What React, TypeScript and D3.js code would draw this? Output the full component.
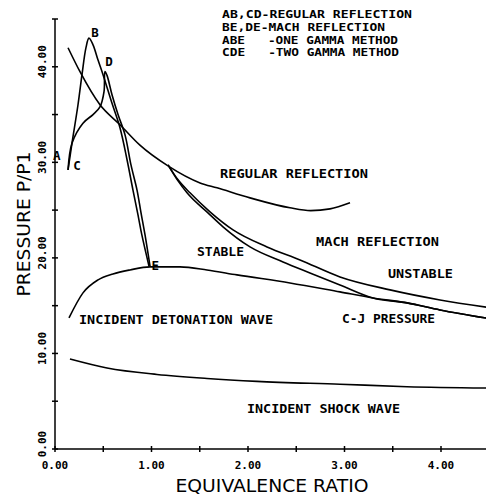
import React from "react";
import * as d3 from "d3";

const width = 486;
const height = 496;
const marginLeft = 55;
const marginTop = 19;
const plotBottom = 449;

// axis ticks (every 0.5 / 5, labels every 1 / 10)
const X_TICKS = [0, 0.5, 1, 1.5, 2, 2.5, 3, 3.5, 4, 4.5];
const X_LABELS = [0, 1, 2, 3, 4];
const Y_TICKS = [0, 5, 10, 15, 20, 25, 30, 35, 40, 45];
const Y_LABELS = [0, 10, 20, 30, 40];

// curves, [equivalence ratio, P/P1]
const REGULAR = [
  [0.135, 41.99], [0.259, 39.48], [0.466, 36.02], [0.674, 33.93], [0.88, 31.8],
  [1.171, 29.63], [1.503, 27.85], [1.679, 27.33], [2.021, 26.28], [2.435, 25.24],
  [2.65, 24.95], [2.85, 25.13], [3.057, 25.76],
];
const ABE = [
  [0.135, 29.2], [0.176, 32.0], [0.238, 36.0], [0.28, 39.2], [0.321, 42.0],
  [0.352, 43.0], [0.394, 42.3], [0.446, 40.7], [0.497, 39.2], [0.59, 36.2],
  [0.674, 33.6], [0.746, 30.3], [0.808, 27.1], [0.86, 24.5], [0.9, 22.4], [0.975, 19.1],
];
const CDE = [
  [0.135, 29.2], [0.176, 32.0], [0.29, 34.1], [0.394, 35.0], [0.466, 35.8],
  [0.508, 37.4], [0.518, 39.5], [0.539, 39.1], [0.59, 37.1], [0.653, 35.0],
  [0.725, 32.9], [0.788, 29.7], [0.85, 27.1], [0.89, 24.8], [0.933, 22.4], [0.985, 19.1],
];
const MACH_UPPER = [
  [1.171, 29.74], [1.275, 28.17], [1.399, 26.81], [1.606, 24.82], [1.845, 22.93],
  [2.197, 21.15], [2.539, 19.79], [2.953, 18.01], [3.472, 16.65], [3.99, 15.6], [4.5, 14.8],
];
const MACH_LOWER = [
  [1.171, 29.74], [1.275, 28.06], [1.368, 26.81], [1.585, 24.71], [1.741, 23.25],
  [2.021, 21.15], [2.363, 19.58], [2.642, 18.43], [2.953, 17.17], [3.295, 15.81],
  [3.648, 15.29], [3.99, 14.55], [4.5, 13.65],
];
const CJ = [
  [0.145, 13.72], [0.29, 16.34], [0.446, 17.7], [0.601, 18.32], [0.777, 18.74],
  [0.984, 19.06], [1.295, 19.06], [1.575, 18.74], [1.886, 18.22], [2.435, 17.38],
  [2.953, 16.44], [3.295, 15.81], [3.648, 15.29], [3.99, 14.55], [4.5, 13.65],
];
const SHOCK = [
  [0.155, 9.42], [0.539, 8.48], [1.057, 7.8], [1.575, 7.38], [2.093, 7.08],
  [2.953, 6.78], [3.648, 6.52], [4.5, 6.38],
];

const LEGEND = [
  "AB,CD-REGULAR REFLECTION",
  "BE,DE-MACH REFLECTION",
  "ABE   -ONE GAMMA METHOD",
  "CDE   -TWO GAMMA METHOD",
];
const LEGEND_WIDTHS = [190, 163, 176, 177];

const x = d3.scaleLinear().domain([0, 4.5]).range([marginLeft, marginLeft + 4.5 * 96.5]);
const y = d3.scaleLinear().domain([0, 45]).range([plotBottom, marginTop]);

// looped curves (ABE, CDE) need catmull-rom, the rest are functions of x
const loopLine = d3
  .line<number[]>()
  .x((d) => x(d[0]))
  .y((d) => y(d[1]))
  .curve(d3.curveCatmullRom.alpha(0.5));
const fnLine = d3
  .line<number[]>()
  .x((d) => x(d[0]))
  .y((d) => y(d[1]))
  .curve(d3.curveMonotoneX);

const mono = "'DejaVu Sans Mono', monospace";
const sans = "'DejaVu Sans', sans-serif";

export default function App() {
  const loops = [ABE, CDE];
  const fns = [REGULAR, MACH_UPPER, MACH_LOWER, CJ, SHOCK];
  return (
    <svg width={width} height={height} style={{ position: "absolute", left: 0, top: 0, background: "#fff" }}>
      {/* axes */}
      <g stroke="#000" strokeWidth={1.5}>
        <line x1={x(0)} x2={x(4.5)} y1={y(0)} y2={y(0)} />
        <line x1={x(0)} x2={x(0)} y1={y(0)} y2={y(45)} />
        {X_TICKS.map((t) => (
          <line key={"xt" + t} x1={x(t)} x2={x(t)} y1={y(0) - 3} y2={y(0) + 3} />
        ))}
        {Y_TICKS.map((t) => (
          <line key={"yt" + t} x1={x(0) - 3} x2={x(0) + 3} y1={y(t)} y2={y(t)} />
        ))}
      </g>
      <g fontFamily={mono} fontSize={11} fontWeight="bold" fill="#000">
        {X_LABELS.map((t) => (
          <text key={"xl" + t} x={x(t)} y={469} textAnchor="middle">
            {t.toFixed(2)}
          </text>
        ))}
        {Y_LABELS.map((t) => (
          <text
            key={"yl" + t}
            transform={`translate(46,${y(t) - 5}) rotate(-90)`}
            textAnchor="middle"
          >
            {t.toFixed(2)}
          </text>
        ))}
      </g>
      <text x={272} y={492} fontFamily={sans} fontSize={18} textAnchor="middle" textLength={193} lengthAdjust="spacingAndGlyphs">
        EQUIVALENCE RATIO
      </text>
      <text transform="translate(30,224) rotate(-90)" fontFamily={sans} fontSize={18} textAnchor="middle" textLength={145} lengthAdjust="spacingAndGlyphs">
        PRESSURE P/P1
      </text>

      {/* curves */}
      <g fill="none" stroke="#000" strokeWidth={1.6}>
        {loops.map((c, i) => (
          <path key={"l" + i} d={loopLine(c as number[][]) || ""} />
        ))}
        {fns.map((c, i) => (
          <path key={"f" + i} d={fnLine(c as number[][]) || ""} />
        ))}
      </g>

      {/* legend */}
      <g fontFamily={mono} fontSize={11} fontWeight="bold" fill="#000">
        {LEGEND.map((s, i) => (
          <text key={s} x={222} y={18 + i * 12.8} textLength={LEGEND_WIDTHS[i]} lengthAdjust="spacingAndGlyphs" style={{ whiteSpace: "pre" }}>
            {s}
          </text>
        ))}
      </g>

      {/* annotations */}
      <g fontFamily={mono} fontSize={12.5} fontWeight="bold" fill="#000">
        <text x={220} y={178} textLength={148} lengthAdjust="spacingAndGlyphs">REGULAR REFLECTION</text>
        <text x={316} y={246} textLength={123} lengthAdjust="spacingAndGlyphs">MACH REFLECTION</text>
        <text x={197} y={256} textLength={47} lengthAdjust="spacingAndGlyphs">STABLE</text>
        <text x={388} y={278} textLength={65} lengthAdjust="spacingAndGlyphs">UNSTABLE</text>
        <text x={342} y={323} textLength={93} lengthAdjust="spacingAndGlyphs">C-J PRESSURE</text>
        <text x={79} y={324} textLength={194} lengthAdjust="spacingAndGlyphs">INCIDENT DETONATION WAVE</text>
        <text x={247} y={413} textLength={153} lengthAdjust="spacingAndGlyphs">INCIDENT SHOCK WAVE</text>
        <text x={x(0.375)} y={y(43.1)}>B</text>
        <text x={x(0.52)} y={y(40.1)}>D</text>
        <text x={x(-0.02)} y={y(30.2)}>A</text>
        <text x={x(0.19)} y={y(29.2)}>C</text>
        <text x={x(1.0)} y={y(18.7)}>E</text>
      </g>
    </svg>
  );
}
